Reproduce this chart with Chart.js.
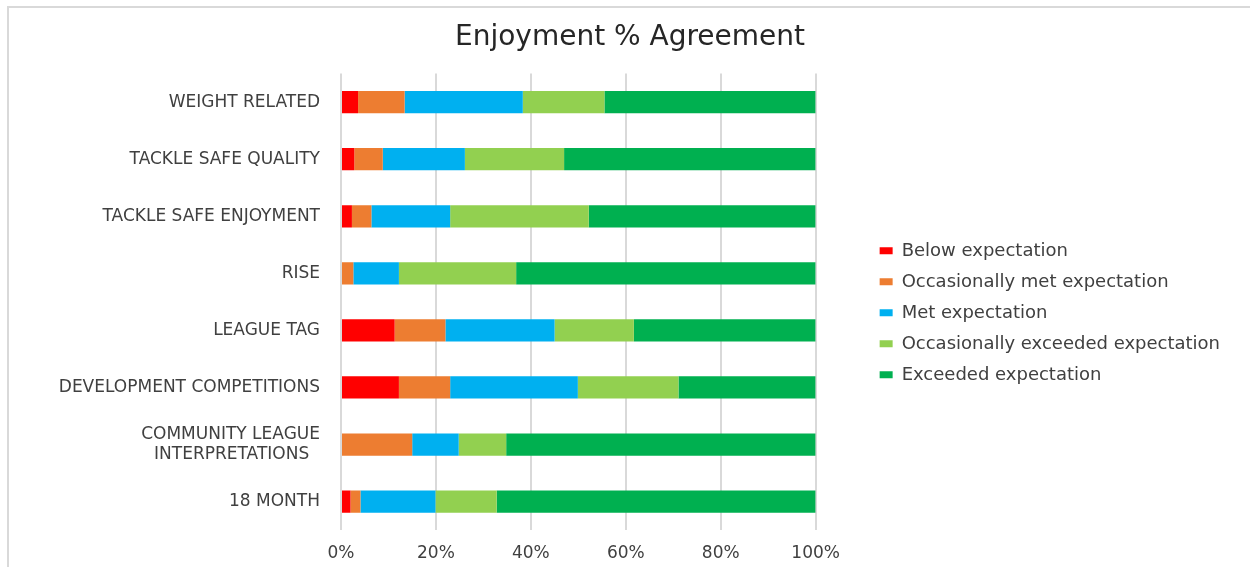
<!DOCTYPE html>
<html lang="en">
<head>
<meta charset="UTF-8" />
<title>Enjoyment % Agreement</title>
<script src="https://cdn.jsdelivr.net/npm/chart.js@4.4.1/dist/chart.umd.min.js"></script>
<style>
  body { margin: 0; background: #fff; }
  #wrap { position: relative; width: 1250px; height: 567px; }
  #frame {
    position: absolute; left: 7px; top: 6px; right: 0; bottom: 0;
    border-left: 2px solid #d9d9d9; border-top: 2px solid #d9d9d9;
  }
  #chart { position: absolute; left: 0; top: 0; }
</style>
</head>
<body>
<div id="wrap">
  <div id="frame"></div>
  <canvas id="chart"></canvas>
</div>
<script>
// programmes, top to bottom
var programmes = [
  'WEIGHT RELATED',
  'TACKLE SAFE QUALITY',
  'TACKLE SAFE ENJOYMENT',
  'RISE',
  'LEAGUE TAG',
  'DEVELOPMENT COMPETITIONS',
  ['COMMUNITY LEAGUE', 'INTERPRETATIONS  '],
  '18 MONTH'
];

// % of responses in each band
var belowExp        = [3.6, 2.8, 2.3, 0,    11.3, 12.2, 0,    2.0];
var occMetExp       = [9.8, 6.0, 4.1, 2.6,  10.7, 10.8, 15.0, 2.1];
var metExp          = [24.9, 17.3, 16.6, 9.6, 23.0, 26.9, 9.8, 15.8];
var occExceededExp  = [17.2, 20.9, 29.2, 24.7, 16.7, 21.2, 10.0, 12.9];
var exceededExp     = [44.5, 53.0, 47.8, 63.1, 38.3, 28.9, 65.2, 67.2];

var xTicks = [0, 20, 40, 60, 80, 100];

var font = "'DejaVu Sans', sans-serif";
var textCol = '#404040';

var ctx = document.getElementById('chart').getContext('2d');

var dat = {
  labels: programmes,
  datasets: [
    { label: 'Below expectation', data: belowExp, backgroundColor: '#ff0000' },
    { label: 'Occasionally met expectation', data: occMetExp, backgroundColor: '#ed7d31' },
    { label: 'Met expectation', data: metExp, backgroundColor: '#00b0f0' },
    { label: 'Occasionally exceeded expectation', data: occExceededExp, backgroundColor: '#92d050' },
    { label: 'Exceeded expectation', data: exceededExp, backgroundColor: '#00b050' }
  ]
};

var options = {
  indexAxis: 'y',
  responsive: true,
  maintainAspectRatio: false,
  animation: false,
  barPercentage: 0.39,
  categoryPercentage: 1,
  layout: { padding: { left: 30, right: 20, top: 0, bottom: -9.5 } },
  plugins: {
    title: {
      display: true,
      text: 'Enjoyment % Agreement',
      color: '#262626',
      font: { family: font, size: 28, weight: 'normal' },
      padding: { top: 21, bottom: 19 }
    },
    legend: {
      position: 'right',
      fullSize: false,
      maxWidth: 400,
      title: { display: true, text: '', font: { size: 10 }, padding: 5 },
      labels: {
        boxWidth: 13,
        boxHeight: 7,
        padding: 13,
        color: textCol,
        font: { family: font, size: 18 }
      }
    },
    tooltip: { enabled: false }
  },
  scales: {
    x: {
      stacked: true,
      min: 0,
      max: 100,
      afterBuildTicks: function (s) {
        s.ticks = xTicks.map(function (v) { return { value: v }; });
      },
      grid: { color: '#d9d9d9', lineWidth: 2, drawTicks: false },
      border: { display: false },
      ticks: {
        padding: 13,
        color: textCol,
        font: { family: font, size: 17 },
        callback: function (v) { return v + '%'; }
      }
    },
    y: {
      stacked: true,
      grid: { display: false, drawTicks: false },
      border: { display: false },
      afterFit: function (s) { s.width = 311; },
      ticks: {
        padding: 21,
        color: textCol,
        font: { family: font, size: 17, lineHeight: 1.2 }
      }
    },
    // empty axis that keeps the legend clear of the bars
    yGap: {
      position: 'right',
      grid: { display: false, drawTicks: false },
      border: { display: false },
      ticks: { display: false },
      afterFit: function (s) { s.width = 51; }
    }
  }
};

var myChart = new Chart(ctx, {
  type: 'bar',
  data: dat,
  options: options
});
</script>
</body>
</html>
